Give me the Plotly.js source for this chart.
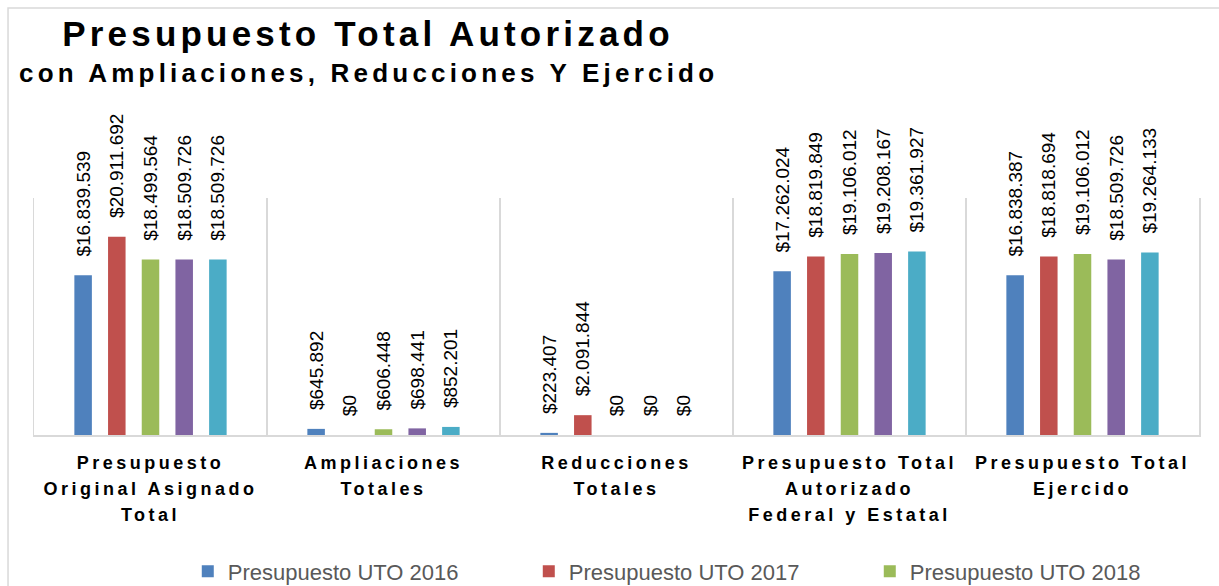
<!DOCTYPE html>
<html>
<head>
<meta charset="utf-8">
<script src="https://cdn.plot.ly/plotly-3.0.1.min.js"></script>
<style>
  html, body { margin: 0; padding: 0; background: #fff; }
  #chart { width: 1219px; height: 586px; }
  .xtick text { letter-spacing: 3.5px; }
  g.annotation[data-index="0"] text { letter-spacing: 4.2px; }
  g.annotation[data-index="1"] text { letter-spacing: 4.2px; }
</style>
</head>
<body>
<div id="chart"></div>
<script>
// ---- Data ----
const categories = [
  "Presupuesto<br>Original Asignado<br>Total",
  "Ampliaciones<br>Totales",
  "Reducciones<br>Totales",
  "Presupuesto Total<br>Autorizado<br>Federal y Estatal",
  "Presupuesto Total<br>Ejercido"
];
const seriesNames = [
  "Presupuesto UTO 2016",
  "Presupuesto UTO 2017",
  "Presupuesto UTO 2018",
  "Presupuesto UTO 2019",
  "Presupuesto UTO 2020"
];
const values2016 = [16839539, 645892, 223407, 17262024, 16838387];
const values2017 = [20911692, 0, 2091844, 18819849, 18818694];
const values2018 = [18499564, 606448, 0, 19106012, 19106012];
const values2019 = [18509726, 698441, 0, 19208167, 18509726];
const values2020 = [18509726, 852201, 0, 19361927, 19264133];
const seriesColors = ["#4F81BD", "#C0504D", "#9BBB59", "#8064A2", "#4BACC6"];
const titleLine1 = "Presupuesto Total Autorizado";
const titleLine2 = "con Ampliaciones, Reducciones Y Ejercido";

const allValues = [values2016, values2017, values2018, values2019, values2020];

const traces = allValues.map((vals, i) => ({
  type: "bar",
  name: seriesNames[i],
  x: categories,
  y: vals,
  marker: { color: seriesColors[i], line: { width: 0 } },
  texttemplate: "\u00a0\u00a0\u00a0$%{y:,}",
  textposition: "outside",
  textangle: -90,
  constraintext: "none",
  cliponaxis: false,
  outsidetextfont: { family: "Liberation Sans, Arial, sans-serif", size: 19, color: "#000000" },
  hoverinfo: "skip"
}));

const tickText = categories.map(c =>
  c.split("<br>").map(l => '<span style="font-size:18px">' + l + '</span>').join("<br>")
);

const layout = {
  width: 1219,
  height: 586,
  margin: { l: 34, r: 20, t: 198, b: 151, autoexpand: false },
  paper_bgcolor: "#ffffff",
  plot_bgcolor: "#ffffff",
  separators: ",.",
  barmode: "group",
  bargap: 0.277,
  bargroupgap: 0.48,
  showlegend: true,
  legend: {
    orientation: "h",
    x: 0.132, xanchor: "left",
    y: -0.487, yanchor: "top",
    entrywidth: 296,
    traceorder: "normal",
    font: { family: "Liberation Sans, Arial, sans-serif", size: 22, color: "#595959" }
  },
  xaxis: {
    type: "category",
    tickmode: "array",
    tickvals: categories,
    ticktext: tickText,
    tickson: "boundaries",
    showgrid: true,
    gridcolor: "#d9d9d9",
    gridwidth: 1.5,
    showline: true,
    linecolor: "#d9d9d9",
    linewidth: 1.5,
    ticks: "",
    ticklabelstandoff: 8,
    tickfont: { family: "Liberation Sans, Arial, sans-serif", size: 20, color: "#000000", weight: "bold" },
    fixedrange: true
  },
  yaxis: {
    range: [0, 25000000],
    showgrid: false,
    zeroline: false,
    showticklabels: false,
    ticks: "",
    showline: true,
    mirror: true,
    linecolor: "#d9d9d9",
    linewidth: 1.5,
    fixedrange: true
  },
  annotations: [
    {
      text: titleLine1,
      xref: "paper", yref: "paper",
      x: 0.2867, y: 1.692,
      xanchor: "center", yanchor: "middle",
      showarrow: false,
      font: { family: "Liberation Sans, Arial, sans-serif", size: 35, color: "#000000", weight: "bold" }
    },
    {
      text: titleLine2,
      xref: "paper", yref: "paper",
      x: 0.2867, y: 1.529,
      xanchor: "center", yanchor: "middle",
      showarrow: false,
      font: { family: "Liberation Sans, Arial, sans-serif", size: 26, color: "#000000", weight: "bold" }
    }
  ],
  shapes: [
    {
      type: "rect",
      xref: "paper", yref: "paper",
      x0: -0.0223, x1: 1.03,
      y0: -0.7, y1: 1.8017,
      line: { color: "#d9d9d9", width: 1.5 },
      fillcolor: "rgba(0,0,0,0)",
      layer: "below"
    }
  ]
};

Plotly.newPlot("chart", traces, layout, { displayModeBar: false, staticPlot: true });
</script>
</body>
</html>
